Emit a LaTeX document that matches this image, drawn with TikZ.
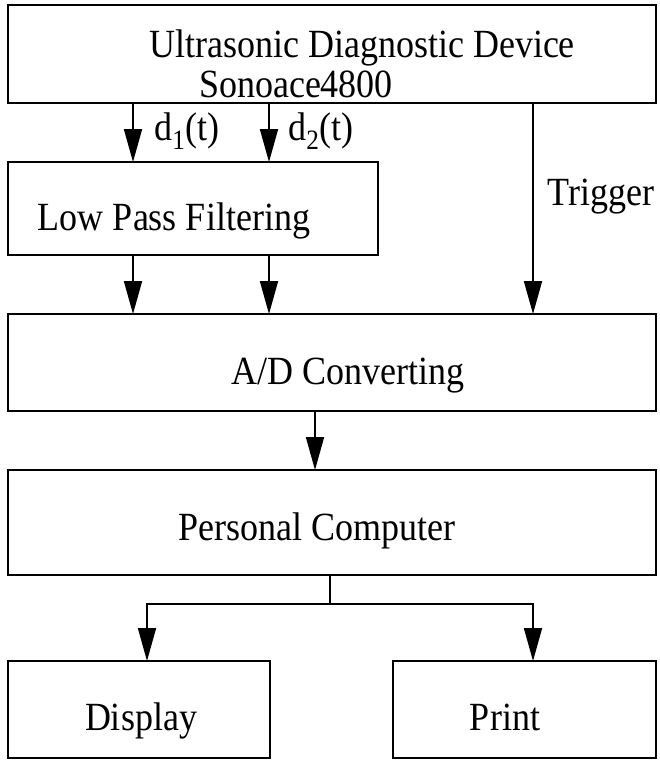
\documentclass[tikz,border=0pt]{standalone}
\usepackage{fontspec}
\setmainfont{Liberation Serif}[FakeStretch=0.9]
\usetikzlibrary{arrows.meta}
\begin{document}
\begin{tikzpicture}[x=1pt,y=-1pt,
  box/.style={draw,line width=2.4pt},
  lbl/.style={font=\fontsize{40}{46}\selectfont,inner sep=0pt,anchor=base},
  flow/.style={line width=1.8pt,-{Triangle[length=33pt,width=18pt]}},
  link/.style={line width=1.8pt}]
\useasboundingbox (0,0) rectangle (659,760);
% blocks
\draw[box] (8,5) rectangle (656,103);
\draw[box] (8,162) rectangle (378,255);
\draw[box] (8,314) rectangle (656,411);
\draw[box] (8,470) rectangle (656,575);
\draw[box] (8,661) rectangle (270,758);
\draw[box] (393,661) rectangle (656,758);
% texts (placed by baseline)
\node[lbl] (t1) at (362,58) {Ultrasonic Diagnostic Device};
\node[lbl] (t2) at (296,97) {Sonoace4800};
\node[lbl] (tl) at (174,230) {Low Pass Filtering};
\node[lbl] (ta) at (348,384) {A/D Converting};
\node[lbl] (tp) at (317,540) {Personal Computer};
\node[lbl] (td) at (141,730) {Display};
\node[lbl] (tq) at (505,730) {Print};
\node[lbl] (tt) at (601,205) {Trigger};
\node[lbl] (s1) at (187,140) {d\textsubscript{1}(t)};
\node[lbl] (s2) at (321,140) {d\textsubscript{2}(t)};
% connector end points
\coordinate (a1) at (133,103); \coordinate (a1e) at (133,162);
\coordinate (a2) at (269,103); \coordinate (a2e) at (269,162);
\coordinate (b1) at (133,255); \coordinate (b1e) at (133,314);
\coordinate (b2) at (269,255); \coordinate (b2e) at (269,314);
\coordinate (tr) at (533,103); \coordinate (tre) at (533,314);
\coordinate (c) at (315,411); \coordinate (ce) at (315,470);
\coordinate (p) at (330,575); \coordinate (pm) at (330,604);
\coordinate (pl) at (147,604); \coordinate (ple) at (147,661);
\coordinate (pr) at (533,604); \coordinate (pre) at (533,661);
% connectors
\draw[flow] (a1) -- (a1e);
\draw[flow] (a2) -- (a2e);
\draw[flow] (b1) -- (b1e);
\draw[flow] (b2) -- (b2e);
\draw[flow] (tr) -- (tre);
\draw[flow] (c) -- (ce);
\draw[link] (p) -- (pm);
\draw[flow] (pm) -- (pl) -- (ple);
\draw[flow] (pm) -- (pr) -- (pre);
\end{tikzpicture}
\end{document}
